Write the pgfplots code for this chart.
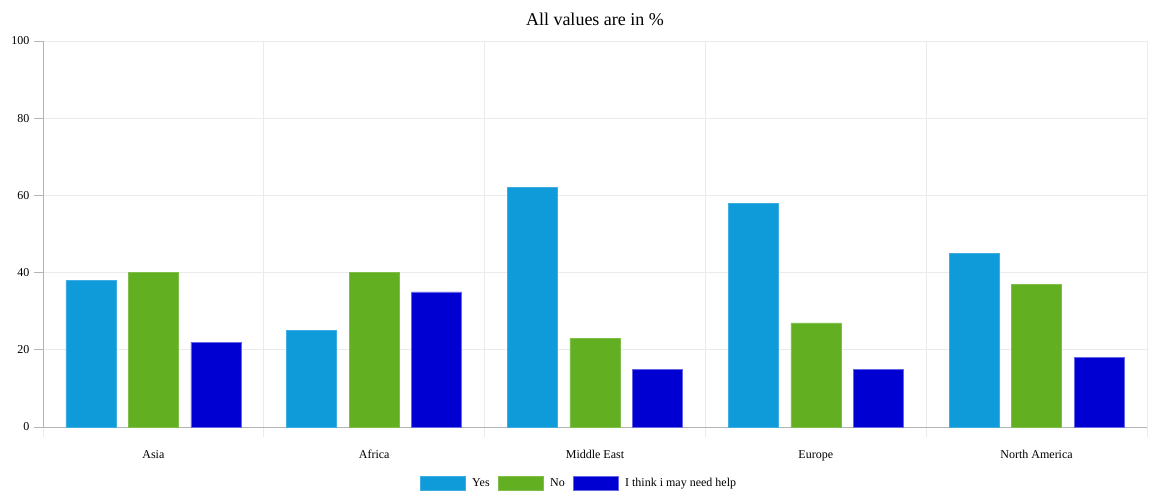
\documentclass[border=0pt]{standalone}
\usepackage{pgfplots}
\pgfplotsset{compat=1.18}
\usepackage{fontspec}
\setmainfont{Liberation Serif}

\definecolor{cyes}{HTML}{0F9AD9}
\definecolor{cno}{HTML}{62AF21}
\definecolor{chelp}{HTML}{0000D2}
\definecolor{gridc}{HTML}{EBEBEB}
\definecolor{axisc}{HTML}{B4B4B4}

\begin{document}
\begin{tikzpicture}
\path[use as bounding box] (-43pt,-73pt) rectangle (1107pt,427pt);
\begin{axis}[
    at={(0,0)}, anchor=south west,
    scale only axis,
    width=1104pt, height=386pt,
    ybar=12.5pt, bar width=50pt,
    xmin=-0.5, xmax=4.5,
    ymin=0, ymax=100,
    xtick={0,1,2,3,4},
    xticklabels={Asia, Africa, Middle East, Europe, North America},
    minor xtick={-0.5,0.5,1.5,2.5,3.5,4.5},
    ytick={0,20,40,60,80,100},
    major x tick style={draw=none},
    minor x tick style={draw=gridc, line width=0.8pt},
    y tick style={draw=axisc, line width=0.8pt},
    minor tick length=10pt,
    major tick length=9pt,
    tick align=outside,
    xminorgrids=true, ymajorgrids=true,
    minor x grid style={gridc, line width=0.8pt},
    major y grid style={gridc, line width=0.8pt},
    axis x line*=bottom, axis y line*=left,
    axis line style={axisc, line width=0.8pt, -},
    tick label style={font=\fontsize{12}{14}\selectfont},
    xticklabel style={yshift=-11pt},
    yticklabel style={xshift=-1pt},
    /pgf/number format/assume math mode=true,
    title={All values are in \%},
    title style={font=\fontsize{18}{21}\selectfont, at={(0.5,1)}, anchor=center, yshift=16pt},
    legend columns=-1,
    legend style={draw=none, fill=none, at={(0.4855,-0.145)}, anchor=center,
        font=\fontsize{12}{14}\selectfont,
        /tikz/every odd column/.append style={column sep=5pt},
        /tikz/every even column/.append style={column sep=6pt}},
    legend image code/.code={\draw[#1] (0pt,-7pt) rectangle (45pt,7pt);},
]
\addplot[fill=cyes, draw=cyes!80!white] coordinates {(0,38) (1,25) (2,62) (3,58) (4,45)};
\addplot[fill=cno, draw=cno!80!white] coordinates {(0,40) (1,40) (2,23) (3,27) (4,37)};
\addplot[fill=chelp, draw=chelp!60!white] coordinates {(0,22) (1,35) (2,15) (3,15) (4,18)};
\legend{Yes, No, I think i may need help}
\end{axis}
\end{tikzpicture}
\end{document}
